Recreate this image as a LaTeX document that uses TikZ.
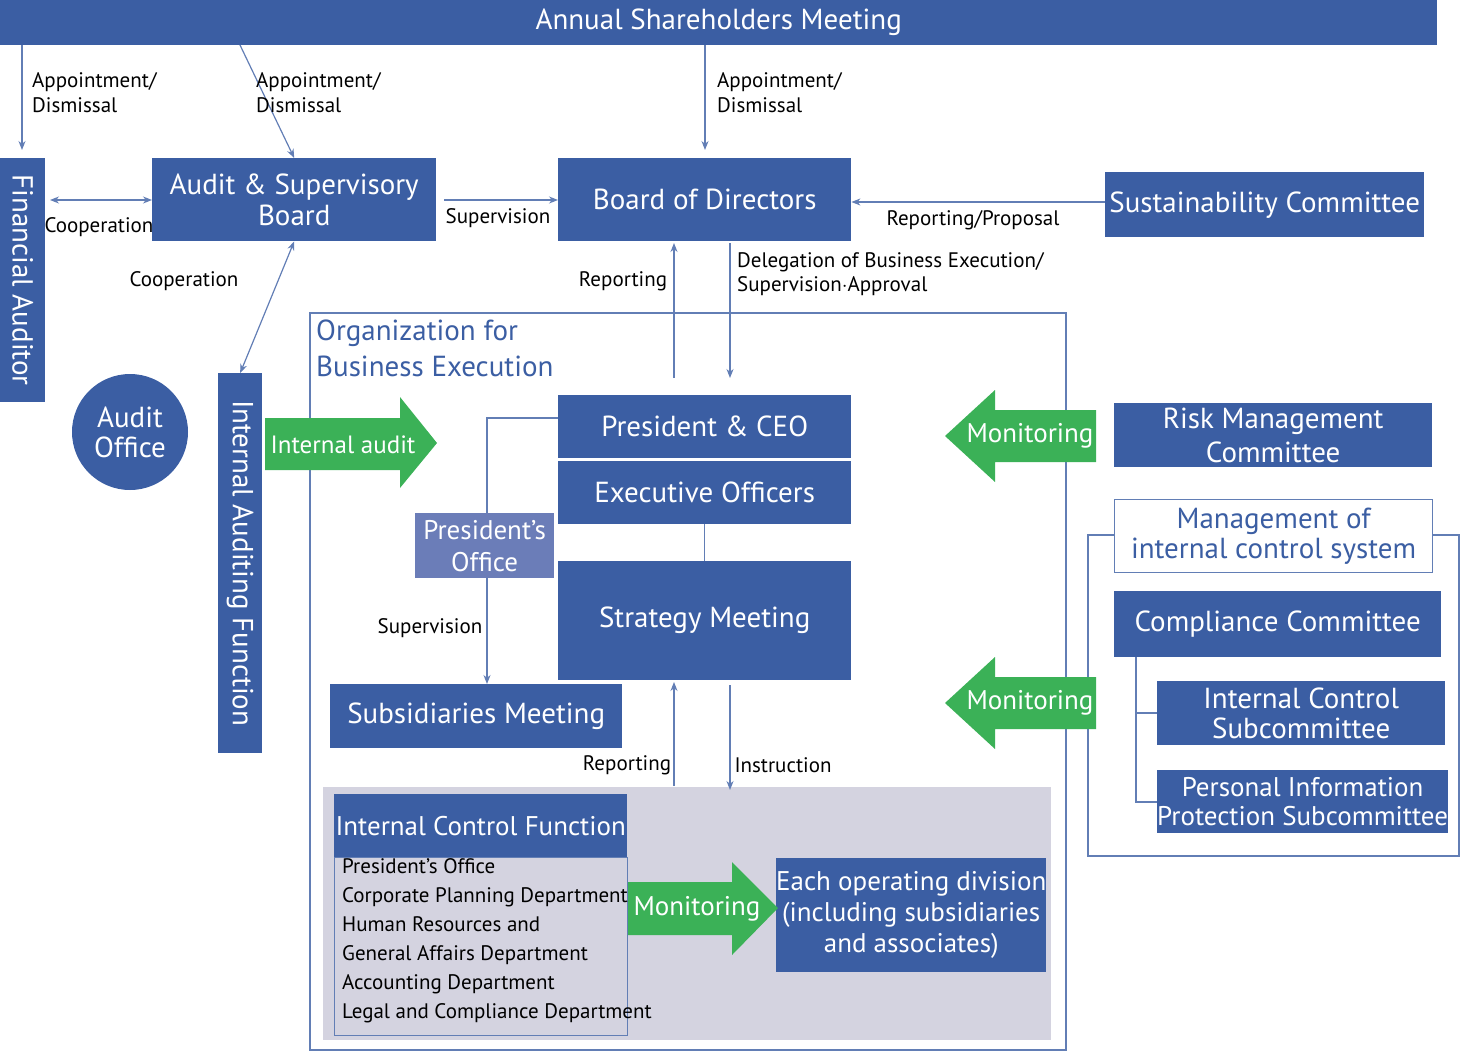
\documentclass[tikz,border=0pt]{standalone}
\usepackage{fontspec}
\setmainfont{PT Sans}
\usetikzlibrary{arrows.meta,calc}
\definecolor{bl}{HTML}{3B5EA3}
\definecolor{lb}{HTML}{6B7DB8}
\definecolor{gr}{HTML}{3BB157}
\definecolor{gy}{HTML}{D4D3E0}
\begin{document}
\begin{tikzpicture}[x=1pt,y=-1pt,
 box/.style={fill=bl,text=white,inner sep=0pt,anchor=north west,align=center,font=\fontsize{29}{29}\selectfont},
 lab/.style={inner sep=0pt,align=left,font=\fontsize{21}{25}\selectfont},
 arr/.style={draw=bl!80,line width=1.2pt,-{Stealth[length=9pt,width=7pt]}},
 darr/.style={draw=bl!80,line width=1.2pt,{Stealth[length=9pt,width=7pt]}-{Stealth[length=9pt,width=7pt]}},
 ln/.style={draw=bl!80,line width=1.2pt},
 garrow/.style={fill=gr}]
\useasboundingbox (0,0) rectangle (1460,1052);
\def\bx#1#2#3#4#5#6{\node[box,minimum width=#4-#2,minimum height=#5-#3,#6] (#1) at (#2,#3) {};}
% boxes
\node[box,minimum width=1437pt,minimum height=45pt] (asm) at (0,0) {Annual Shareholders Meeting};
\node[box,minimum width=45pt,minimum height=244pt] (fa) at (0,158) {};
\node[text=white,rotate=-90,font=\fontsize{29}{29}\selectfont] at (fa.center) {Financial Auditor};
\node[box,minimum width=284pt,minimum height=83pt,font=\fontsize{29}{31}\selectfont] (asb) at (152,158) {Audit \& Supervisory\\Board};
\node[box,minimum width=293pt,minimum height=83pt] (bod) at (558,158) {Board of Directors};
\node[box,minimum width=319pt,minimum height=65pt] (sc) at (1105,172) {Sustainability Committee};
\node[box,minimum width=44pt,minimum height=380pt] (iaf) at (218,373) {};
\node[text=white,rotate=-90,font=\fontsize{29}{29}\selectfont] at (iaf.center) {Internal Auditing Function};
\node[circle,fill=bl,text=white,minimum size=116pt,inner sep=0pt,align=center,font=\fontsize{29}{30}\selectfont] (ao) at (130,432) {Audit\\Office};
% org box
\draw[bl!80,line width=1.2pt] (310,313) rectangle (1066,1050);
\node[anchor=north west,inner sep=0pt,text=bl,align=left,font=\fontsize{29}{36}\selectfont] (org) at (316,320) {Organization for\\Business Execution};
\fill[gy] (323,787) rectangle (1051,1040);
\node[box,minimum width=293pt,minimum height=63pt] (ceo) at (558,395) {President \& CEO};
\node[box,minimum width=293pt,minimum height=63pt] (eo) at (558,461) {Executive Officers};
\node[box,minimum width=293pt,minimum height=119pt] (sm) at (558,561) {Strategy Meeting};
\node[box,fill=lb,minimum width=139pt,minimum height=65pt,font=\fontsize{27}{32}\selectfont] (po) at (415,513) {President's\\Office};
\node[box,minimum width=292pt,minimum height=64pt] (sub) at (330,684) {Subsidiaries Meeting};
\node[box,minimum width=293pt,minimum height=63pt,font=\fontsize{27}{29}\selectfont] (icf) at (334,794) {Internal Control Function};
\node[draw=bl!80,fill=gy,anchor=north west,minimum width=293pt,minimum height=178pt,inner sep=0pt] (icl) at (334,857) {};
\node[anchor=north west,inner sep=0pt,align=left,font=\fontsize{21}{29}\selectfont] at (342,858) {President's Office\\Corporate Planning Department\\Human Resources and\\General Affairs Department\\Accounting Department\\Legal and Compliance Department};
\node[box,minimum width=268pt,minimum height=114pt,font=\fontsize{27}{31}\selectfont] (eod) at (776,858) {Each operating division\\(including subsidiaries\\and associates)};
% right side
\node[box,minimum width=318pt,minimum height=64pt,font=\fontsize{29}{34}\selectfont] (rmc) at (1114,403) {Risk Management\\Committee};
\draw[bl!80,line width=1.2pt] (1088,535) rectangle (1459,856);
\node[box,fill=white,draw=bl!80,line width=1.2pt,text=bl,minimum width=318pt,minimum height=73pt,font=\fontsize{29}{30}\selectfont] (mic) at (1114,499) {Management of\\internal control system};
\node[box,minimum width=327pt,minimum height=66pt] (cc) at (1114,591) {Compliance Committee};
\node[box,minimum width=288pt,minimum height=64pt,font=\fontsize{29}{30}\selectfont] (ics) at (1157,681) {Internal Control\\Subcommittee};
\node[box,minimum width=288pt,minimum height=63pt,font=\fontsize{27}{29}\selectfont] (pips) at (1157,770) {Personal Information\\Protection Subcommittee};
\draw[ln] (1136,657) -- (1136,802) -- (pips.west|-0,802);
\draw[ln] (1136,713) -- (ics.west|-0,713);
% green arrows
\fill[gr] (265,418) -- (400,418) -- (400,397) -- (437,443) -- (400,488) -- (400,470) -- (265,470) -- cycle;
\node[text=white,font=\fontsize{25}{25}\selectfont] (ia) at (343,445) {Internal audit};
\fill[gr] (628,882) -- (732,882) -- (732,862) -- (778,908) -- (732,955) -- (732,935) -- (628,935) -- cycle;
\node[text=white,font=\fontsize{27}{27}\selectfont] (m3) at (697,909) {Monitoring};
\foreach \yy/\nm in {436/m1,703/m2}{
\fill[gr] (945,\yy) -- (995,\yy-46) -- (995,\yy-26) -- (1096,\yy-26) -- (1096,\yy+26) -- (995,\yy+26) -- (995,\yy+46) -- cycle;
\node[text=white,font=\fontsize{27}{27}\selectfont] (\nm) at (1030,\yy) {Monitoring};}
% arrows
\draw[arr] (22,45) -- (22,150);
\draw[arr] (240,45) -- (asb.north);
\draw[arr] (705,45) -- (705,150);
\foreach \xx in {32,256,717}{\node[lab,anchor=north west] at (\xx,72) {Appointment/\\Dismissal};}
\draw[darr] (50,200) -- (asb.west|-0,200);
\node[lab] at (99,227) {Cooperation};
\draw[arr] (444,200) -- (bod.west|-0,200);
\node[lab] at (498,218) {Supervision};
\draw[arr] (sc.west|-0,202) -- (bod.east|-0,202);
\node[lab] at (973,220) {Reporting/Proposal};
\draw[darr] (asb.south) -- (iaf.north);
\node[lab] at (184,281) {Cooperation};
\draw[arr] (674,378) -- (674,243);
\node[lab] at (623,281) {Reporting};
\draw[arr] (730,243) -- (730,378);
\node[lab,anchor=north west,font=\fontsize{21}{24}\selectfont] at (737,252) {Delegation of Business Execution/\\Supervision$\cdot$Approval};
\draw[ln] (eo.south) -- (sm.north);
\draw[ln] (ceo.west|-0,418) -- (487,418) -- (po.north-|487,0);
\draw[arr] (487,578) -- (sub.north-|487,0);
\node[lab] at (430,628) {Supervision};
\draw[arr] (674,786) -- (674,682);
\node[lab] at (627,765) {Reporting};
\draw[arr] (730,685) -- (730,790);
\node[lab] at (783,765) {Instruction};
\end{tikzpicture}
\end{document}
